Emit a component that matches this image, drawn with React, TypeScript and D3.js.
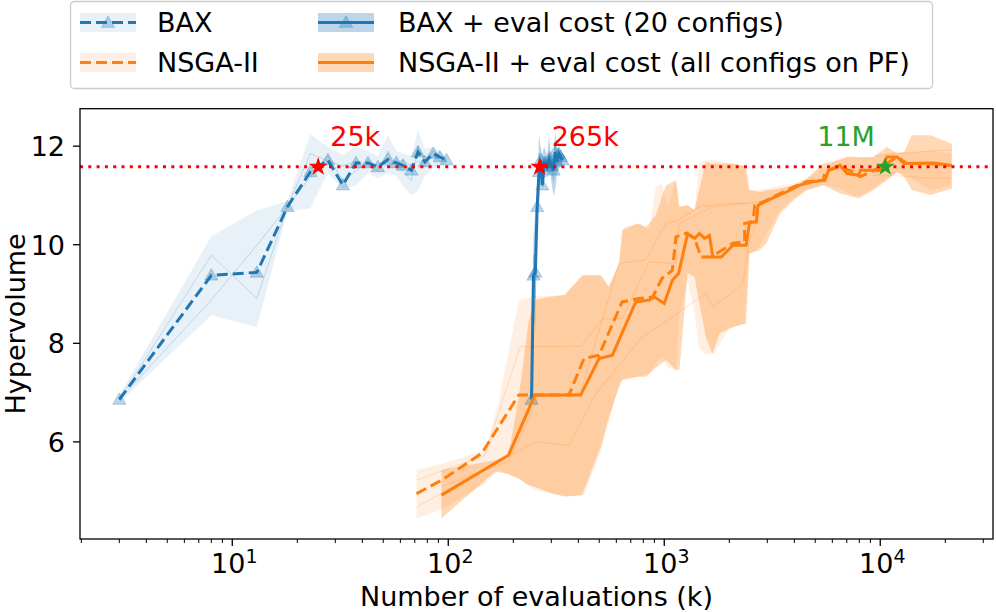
import React from 'react';
import * as d3 from 'd3';

// ---------------- data ----------------
const baxX = [3, 8, 13, 18, 23, 27.7, 32.5, 37.4, 42.5, 47.2, 52.6, 57.5, 61.7, 67.5, 72.4, 77.9, 85.1, 91.4, 98.2];
const baxY = [6.86, 9.38, 9.44, 10.77, 11.48, 11.72, 11.21, 11.66, 11.66, 11.58, 11.73, 11.66, 11.61, 11.51, 11.88, 11.68, 11.85, 11.78, 11.72];
const baxHi = [6.95, 10.17, 10.7, 10.88, 12.24, 11.99, 11.82, 11.99, 11.9, 11.8, 12.22, 11.9, 11.85, 11.8, 12.32, 11.95, 11.98, 11.9, 11.8];
const baxLo = [6.8, 8.57, 8.33, 10.68, 10.74, 11.45, 11.14, 11.2, 11.45, 11.35, 11.45, 11.4, 11.2, 11.0, 11.1, 11.4, 11.55, 11.6, 11.65];
const baxSeedA = [6.86, 9.79, 8.91, 10.77, 11.85, 11.7, 11.6, 11.7, 11.6, 11.5, 11.9, 11.6, 11.5, 11.3, 12.0, 11.7, 11.8, 11.7, 11.75];
const baxSeedB = [6.86, 8.88, 9.99, 10.77, 11.38, 11.8, 11.3, 11.5, 11.7, 11.6, 11.6, 11.7, 11.7, 11.6, 11.7, 11.6, 11.9, 11.8, 11.7];
const baxEvalX = [243, 248, 253, 258, 263, 267.7, 272.5, 277.4, 282.5, 287.2, 292.6, 297.5, 301.7, 307.5, 312.4, 317.9, 325.1, 331.4, 338.2];

const nsgaX = [71.3, 93, 143, 212, 262, 362, 425, 499, 638, 763, 883, 977, 1090, 1134, 1259, 1380, 1482, 1649, 1803, 2080, 2356, 2356, 2576, 2624, 2972, 3430, 3956, 4564, 5450, 5550, 6400, 7520, 8080, 9310, 10740, 11960, 13310, 17100, 21200];
const nsgaY = [4.95, 5.22, 5.77, 6.95, 6.95, 6.95, 7.69, 7.76, 8.84, 8.91, 8.94, 9.32, 9.48, 10.16, 10.23, 10.13, 9.75, 9.75, 9.86, 10.03, 10.06, 10.43, 10.46, 10.8, 10.9, 11.04, 11.17, 11.28, 11.31, 11.48, 11.58, 11.48, 11.38, 11.51, 11.65, 11.78, 11.65, 11.65, 11.61];

const nsgaEvalX = [93, 190, 252, 410, 499, 575, 738, 851, 900, 1000, 1090, 1166, 1283, 1383, 1455, 1535, 1618, 1678, 1836, 2080, 2394, 2483, 2668, 2717, 3079, 3680, 4250, 4900, 5550, 5760, 6510, 7000, 7940, 8100, 10000, 10740, 11960, 12880, 17740, 21500];
const nsgaEvalY = [4.92, 5.73, 6.95, 6.95, 7.69, 7.76, 8.84, 8.88, 8.94, 8.81, 9.28, 9.42, 10.23, 10.13, 10.23, 10.13, 10.19, 9.75, 9.75, 9.99, 9.99, 10.46, 10.46, 10.8, 10.92, 11.07, 11.21, 11.28, 11.31, 11.51, 11.61, 11.45, 11.41, 11.51, 11.51, 11.78, 11.78, 11.65, 11.66, 11.61];

const nsgaBandX = [71.3, 93, 148, 171, 212, 252, 339, 425, 508, 554, 617, 650, 757, 851, 914, 974, 1040, 1134, 1166, 1282, 1380, 1450, 1557, 1700, 2000, 2350, 2450, 2700, 3430, 3950, 4564, 5550, 6400, 7520, 8080, 9310, 10740, 11960, 13310, 17100, 21200];
const nsgaBandHi = [5.43, 5.55, 5.83, 6.8, 8.88, 8.95, 8.98, 9.38, 9.38, 9.15, 9.62, 10.36, 10.43, 10.3, 11.17, 11.24, 10.77, 11.31, 10.77, 10.8, 10.7, 11.65, 11.72, 11.72, 11.65, 11.61, 11.11, 11.11, 11.2, 11.24, 11.35, 11.55, 11.75, 11.8, 11.75, 11.78, 11.85, 11.9, 11.85, 11.9, 11.85];
const nsgaBandLo = [4.45, 4.62, 5.15, 5.43, 5.25, 5.02, 4.89, 4.92, 5.8, 6.4, 7.2, 7.3, 7.32, 7.39, 7.6, 7.73, 7.5, 7.46, 8.5, 9.3, 8.6, 7.9, 7.79, 7.79, 8.3, 8.4, 9.8, 9.9, 10.7, 10.95, 11.1, 11.2, 11.15, 11.0, 11.0, 11.15, 11.35, 11.45, 11.4, 11.1, 11.2];

const evalBandX = [93, 165, 190, 212, 236, 252, 292, 348, 416, 508, 554, 617, 638, 757, 822, 914, 1016, 1134, 1175, 1283, 1380, 1557, 1670, 1803, 2080, 2390, 2483, 2760, 2972, 3430, 3956, 4564, 5450, 6510, 7000, 7940, 9310, 10740, 11960, 12880, 14000, 17100, 21500];
const evalBandHi = [5.43, 5.63, 5.73, 6.91, 8.47, 8.88, 8.94, 8.98, 9.38, 9.38, 9.15, 9.62, 10.3, 10.43, 10.36, 10.6, 11.2, 11.31, 10.77, 10.8, 10.7, 11.68, 11.65, 11.65, 11.65, 11.58, 11.11, 11.07, 11.1, 11.14, 11.2, 11.34, 11.65, 11.72, 11.78, 11.78, 11.78, 11.99, 11.85, 11.88, 12.22, 12.22, 12.05];
const evalBandLo = [4.45, 5.4, 5.35, 5.25, 5.12, 5.09, 4.98, 4.89, 4.92, 5.9, 6.5, 7.1, 7.25, 7.32, 7.32, 7.5, 7.66, 7.46, 7.46, 9.42, 9.35, 8.13, 7.79, 8.2, 8.33, 8.4, 9.82, 9.89, 10.03, 10.63, 10.9, 11.11, 11.21, 11.04, 11.01, 10.94, 11.11, 11.31, 11.48, 11.38, 11.11, 11.01, 11.14];

const orSeed1X = [71.3, 148, 215, 410, 519, 638, 850, 1134, 1170, 1670, 2390, 2760];
const orSeed1Y = [5.22, 5.73, 7.93, 7.94, 8.5, 8.5, 9.65, 9.62, 10.43, 10.77, 10.84, 10.87];
const orSeed2X = [71.3, 252, 362, 483, 790, 1016, 1557, 1670, 2300, 2483, 2760];
const orSeed2Y = [4.68, 6.0, 5.93, 6.98, 8.13, 8.44, 9.01, 8.74, 9.18, 10.09, 10.63];
const orSeed3X = [93, 190, 262, 410, 617, 822, 1016, 1166, 1450, 1950, 2390];
const orSeed3Y = [5.1, 5.6, 6.9, 7.0, 9.62, 9.69, 10.43, 10.5, 10.77, 10.84, 10.84];
const orSeed4X = [9310, 12000, 17100, 21200];
const orSeed4Y = [11.4, 11.4, 11.35, 11.35];
const orSeed5X = [9310, 12000, 17100, 21200];
const orSeed5Y = [11.8, 11.85, 11.9, 11.92];

const threshold = 11.58;
const starX = [25, 265, 10550];
const starLabels = ['25k', '265k', '11M'];
const starColors = ['red', 'red', '#2ca02c'];

const yTicks = [6, 8, 10, 12];
const xMajor = [10, 100, 1000, 10000];
const xMajorExp = ['1', '2', '3', '4'];

const legendLabels = ['BAX', 'NSGA-II', 'BAX + eval cost (20 configs)', 'NSGA-II + eval cost (all configs on PF)'];

// ---------------- layout ----------------
const W = 996;
const H = 612;
const L = 80;
const R = 993;
const T = 108.7;
const B = 539;
const FONT = 'DejaVu Sans, sans-serif';
const FS = 27;
const BLUE = '#1f77b4';
const ORANGE = '#ff7f0e';

export default function App() {
  const x = d3.scaleLog().domain([Math.pow(10, 0.295), Math.pow(10, 4.522)]).range([L, R]);
  const y = d3.scaleLinear().domain([4.03, 12.76]).range([B, T]);

  const zip = (xs: number[], ys: number[]) => xs.map((v, i) => [v, ys[i]] as [number, number]);
  const line = d3.line<[number, number]>().x((d) => x(d[0])).y((d) => y(d[1]));
  const area = (xs: number[], lo: number[], hi: number[]) =>
    d3.area<number>().x((d) => x(xs[d])).y0((d) => y(lo[d])).y1((d) => y(hi[d]))(xs.map((_, i) => i)) || '';

  const tri = d3.symbol().type(d3.symbolTriangle).size(75)() || '';
  const star = d3.symbol().type(d3.symbolStar).size(110)() || '';

  const minor: number[] = [];
  [1, 10, 100, 1000, 10000].forEach((dec) => {
    for (let k = 2; k <= 9; k++) {
      const v = k * dec;
      if (v > x.domain()[0] && v < x.domain()[1]) minor.push(v);
    }
  });

  const markers = (xs: number[], ys: number[]) =>
    xs.map((v, i) => (
      <path key={i} d={tri} transform={`translate(${x(v)},${y(ys[i]) + 1})`} fill={BLUE} fillOpacity={0.3} stroke={BLUE} strokeOpacity={0.3} strokeWidth={1} />
    ));

  const seed = (xs: number[], ys: number[], color: string, key: string) => (
    <path key={key} d={line(zip(xs, ys)) || ''} fill="none" stroke={color} strokeOpacity={0.22} strokeWidth={1} />
  );

  const lh = [22.5, 62.5];
  const lx = [80, 318];
  const hw = 56;

  return (
    <svg width={W} height={H} style={{ position: 'absolute', left: 0, top: 0, background: '#fff' }} fontFamily={FONT}>
      <defs>
        <clipPath id="plot">
          <rect x={L} y={T} width={R - L} height={B - T} />
        </clipPath>
      </defs>
      <rect x={0} y={0} width={W} height={H} fill="#fff" />
      <g clipPath="url(#plot)">
        {/* bands */}
        <path d={area(baxX, baxLo, baxHi)} fill={BLUE} fillOpacity={0.1} />
        <path d={area(baxEvalX, baxLo, baxHi)} fill={BLUE} fillOpacity={0.3} />
        <path d={area(nsgaBandX, nsgaBandLo, nsgaBandHi)} fill={ORANGE} fillOpacity={0.12} />
        <path d={area(evalBandX, evalBandLo, evalBandHi)} fill={ORANGE} fillOpacity={0.3} />
        {/* seeds */}
        {seed(baxX, baxSeedA, BLUE, 'sa')}
        {seed(baxX, baxSeedB, BLUE, 'sb')}
        {seed(baxEvalX, baxSeedA, BLUE, 'sc')}
        {seed(baxEvalX, baxSeedB, BLUE, 'sd')}
        {seed(orSeed1X, orSeed1Y, ORANGE, 'o1')}
        {seed(orSeed2X, orSeed2Y, ORANGE, 'o2')}
        {seed(orSeed3X, orSeed3Y, ORANGE, 'o3')}
        {seed(orSeed4X, orSeed4Y, ORANGE, 'o4')}
        {seed(orSeed5X, orSeed5Y, ORANGE, 'o5')}
        {/* markers */}
        {markers(baxX, baxY)}
        {markers(baxEvalX, baxY)}
        {/* main lines */}
        <path d={line(zip(baxX, baxY)) || ''} fill="none" stroke={BLUE} strokeWidth={3} strokeDasharray="11,5" />
        <path d={line(zip(baxEvalX, baxY)) || ''} fill="none" stroke={BLUE} strokeWidth={3} />
        <path d={line(zip(nsgaX, nsgaY)) || ''} fill="none" stroke={ORANGE} strokeWidth={3} strokeDasharray="11,5" />
        <path d={line(zip(nsgaEvalX, nsgaEvalY)) || ''} fill="none" stroke={ORANGE} strokeWidth={3} />
        {/* threshold */}
        <line x1={L} x2={R} y1={y(threshold)} y2={y(threshold)} stroke="red" strokeWidth={3} strokeDasharray="3,5.3" />
        {/* stars */}
        {starX.map((v, i) => (
          <path key={i} d={star} transform={`translate(${x(v)},${y(threshold)})`} fill={starColors[i]} />
        ))}
      </g>
      {/* annotations */}
      {starX.map((v, i) => (
        <text key={i} x={x(v) + (i === 2 ? -68 : 12)} y={146} fontSize={FS} fill={starColors[i]}>
          {starLabels[i]}
        </text>
      ))}
      {/* axes frame */}
      <rect x={L} y={T} width={R - L} height={B - T} fill="none" stroke="#000" strokeWidth={1.3} />
      {/* y ticks */}
      {yTicks.map((t) => (
        <g key={t}>
          <line x1={L - 7} x2={L} y1={y(t)} y2={y(t)} stroke="#000" strokeWidth={1.3} />
          <text x={L - 15} y={y(t) + 9.8} fontSize={FS} textAnchor="end" fill="#000">
            {t}
          </text>
        </g>
      ))}
      {/* x ticks */}
      {minor.map((v, i) => (
        <line key={i} x1={x(v)} x2={x(v)} y1={B} y2={B + 4} stroke="#000" strokeWidth={1} />
      ))}
      {xMajor.map((v, i) => (
        <g key={v}>
          <line x1={x(v)} x2={x(v)} y1={B} y2={B + 7} stroke="#000" strokeWidth={1.3} />
          <text x={x(v) + 2} y={573} fontSize={FS} textAnchor="middle" fill="#000">
            10
            <tspan fontSize={19} dy={-10}>
              {xMajorExp[i]}
            </tspan>
          </text>
        </g>
      ))}
      {/* axis labels */}
      <text x={(L + R) / 2} y={606} fontSize={FS} textAnchor="middle" fill="#000">
        Number of evaluations (k)
      </text>
      <text transform={`translate(25,${(T + B) / 2}) rotate(-90)`} fontSize={FS} textAnchor="middle" fill="#000">
        Hypervolume
      </text>
      {/* legend */}
      <rect x={70.5} y={1.5} width={862} height={87} rx={4} fill="#fff" fillOpacity={0.8} stroke="#cccccc" strokeWidth={1.3} />
      {/* BAX */}
      <rect x={lx[0]} y={lh[0] - 9.5} width={hw} height={19} fill={BLUE} fillOpacity={0.1} />
      <line x1={lx[0]} x2={lx[0] + hw} y1={lh[0]} y2={lh[0]} stroke={BLUE} strokeWidth={3} strokeDasharray="11,5" />
      <path d={tri} transform={`translate(${lx[0] + hw / 2},${lh[0] + 1})`} fill={BLUE} fillOpacity={0.3} stroke={BLUE} strokeOpacity={0.3} />
      <text x={157} y={lh[0] + 9.8} fontSize={FS} fill="#000">{legendLabels[0]}</text>
      {/* NSGA-II */}
      <rect x={lx[0]} y={lh[1] - 9.5} width={hw} height={19} fill={ORANGE} fillOpacity={0.12} />
      <line x1={lx[0]} x2={lx[0] + hw} y1={lh[1]} y2={lh[1]} stroke={ORANGE} strokeWidth={3} strokeDasharray="11,5" />
      <text x={157} y={lh[1] + 9.8} fontSize={FS} fill="#000">{legendLabels[1]}</text>
      {/* BAX + eval */}
      <rect x={lx[1]} y={lh[0] - 9.5} width={hw} height={19} fill={BLUE} fillOpacity={0.3} />
      <line x1={lx[1]} x2={lx[1] + hw} y1={lh[0]} y2={lh[0]} stroke={BLUE} strokeWidth={3} />
      <path d={tri} transform={`translate(${lx[1] + hw / 2},${lh[0] + 1})`} fill={BLUE} fillOpacity={0.3} stroke={BLUE} strokeOpacity={0.3} />
      <text x={398} y={lh[0] + 9.8} fontSize={FS} fill="#000">{legendLabels[2]}</text>
      {/* NSGA-II + eval */}
      <rect x={lx[1]} y={lh[1] - 9.5} width={hw} height={19} fill={ORANGE} fillOpacity={0.3} />
      <line x1={lx[1]} x2={lx[1] + hw} y1={lh[1]} y2={lh[1]} stroke={ORANGE} strokeWidth={3} />
      <text x={398} y={lh[1] + 9.8} fontSize={FS} fill="#000">{legendLabels[3]}</text>
    </svg>
  );
}
